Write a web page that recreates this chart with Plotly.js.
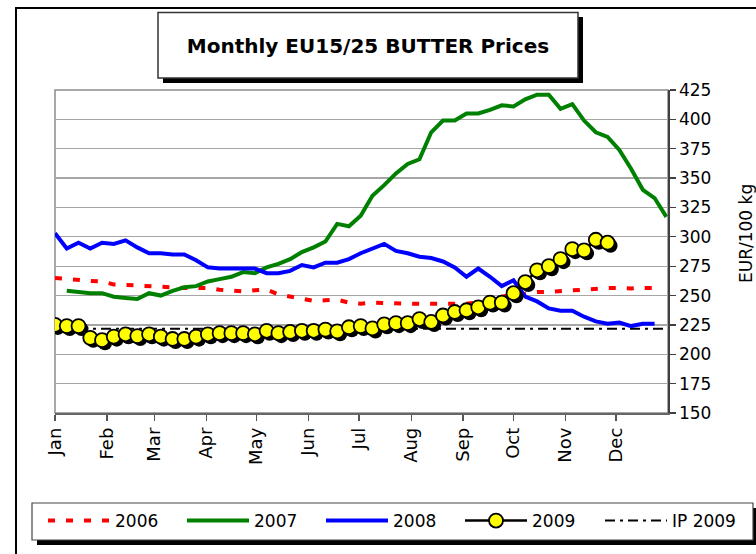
<!DOCTYPE html>
<html>
<head>
<meta charset="utf-8">
<script src="https://cdn.plot.ly/plotly-3.0.1.min.js"></script>
<style>html,body{margin:0;padding:0;background:#fff}#chart{width:756px;height:554px}</style>
</head>
<body>
<div id="chart"></div>
<script>
// ---- data (weekly prices, EUR/100 kg) ----
const monthLabels = ["Jan","Feb","Mar","Apr","May","Jun","Jul","Aug","Sep","Oct","Nov","Dec"];
const monthStartWeek = [0, 4.43, 8.43, 12.86, 17.14, 21.57, 25.86, 30.29, 34.71, 39, 43.43, 47.71];
const seriesNames = ["2006","2007","2008","2009","IP 2009"];

const start2006 = 0;
const p2006 = [265,264,263,262.5,262,259.5,259,258.5,258,257.5,256.5,256.5,256.5,256.5,255,254,253.5,254.5,255,251,
  249,247,245.5,246,246.5,244,243,244,243.5,243,243,243,243,243,243,243,244,246,249,251,
  251.5,253,253,254,254.5,255,256,256.5,256.5,256,256.5,256.5];
const start2007 = 1;
const p2007 = [254,253,252,252,249,248,247,252,250,254,257,258,262,264,266,270,269,274,277,281,
  287,291,296,311,309,318,335,344,354,362,366,389,399,399,405,405,408,412,411,417,
  421,421,409,413,399,389,385,374,358,340,333,317];
const start2008 = 0;
const p2008 = [303,290,295,290,295,294,297,291,286,286,285,285,280,274,273,273,273,273,269,269,
  271,276,274,278,278,281,286,290,294,288,286,283,282,279,274,266,273,266,258,263,
  249,245,239,237,237,232,228,226,227,224,226,226];
const start2009 = 0;
const p2009 = [225,224,224,214,212,215,217,215.5,217,215,213,213,215,217,218,218,218,217,220,218,
  219,220,220,221,219.5,223,224,222,225.5,226.5,226.5,230,227.5,233,236,237.5,240,244,244,252,
  261.5,271.5,275,281,289.5,288.5,297.5,295];
const ipWeeks = [0, 52];
const ip2009 = [221.75, 221.75];

// ---- geometry helpers (pixels -> paper) ----
const L = 55, T = 90, W = 613, H = 323;
const px = x => (x - L) / W;
const py = y => (T + H - y) / H;
const weeks = (start, arr) => arr.map((_, i) => start + i);

const X_RANGE = [0, 52.14];
const Y_RANGE = [150, 425];
const SH = 3; // shadow offset in px
const dxShadow = SH * (X_RANGE[1] - X_RANGE[0]) / W;
const dyShadow = SH * (Y_RANGE[1] - Y_RANGE[0]) / H;

const FONT = '"Comic Sans MS", "DejaVu Sans", sans-serif';

const traces = [
  { x: ipWeeks, y: ip2009, name: seriesNames[4], mode: 'lines', legend: 'legend2',
    line: { color: '#000000', width: 2, dash: '10px,5px,3px,5px' } },
  { x: weeks(start2006, p2006), y: p2006, name: seriesNames[0], mode: 'lines', legendrank: 1,
    line: { color: '#ff0000', width: 4, dash: '7px,11px' } },
  { x: weeks(start2007, p2007), y: p2007, name: seriesNames[1], mode: 'lines', legendrank: 2,
    line: { color: '#008000', width: 4 } },
  { x: weeks(start2008, p2008), y: p2008, name: seriesNames[2], mode: 'lines', legendrank: 3,
    line: { color: '#0000ff', width: 4 } },
  { x: weeks(start2009, p2009), y: p2009, name: 'shadow', mode: 'markers', showlegend: false,
    xaxis: 'x2', yaxis: 'y2', hoverinfo: 'skip',
    marker: { color: '#000000', size: 14, line: { width: 0 } } },
  { x: weeks(start2009, p2009), y: p2009, name: seriesNames[3], mode: 'lines+markers', legendrank: 4,
    xaxis: 'x3', yaxis: 'y3',
    line: { color: '#000000', width: 2.5 },
    marker: { color: '#ffff00', size: 14, line: { color: '#000000', width: 1.8 } } }
];

const shapes = [
  // outer chart frame
  { type: 'rect', xref: 'paper', yref: 'paper', x0: px(16), x1: px(790), y0: py(600), y1: py(8),
    line: { color: '#000', width: 2 }, fillcolor: 'rgba(0,0,0,0)', layer: 'below' },
  // title box shadow + box
  { type: 'rect', xref: 'paper', yref: 'paper', x0: px(163), x1: px(583), y0: py(83), y1: py(17),
    line: { width: 0 }, fillcolor: '#000', layer: 'below' },
  { type: 'rect', xref: 'paper', yref: 'paper', x0: px(158), x1: px(578), y0: py(78), y1: py(12.5),
    line: { color: '#333', width: 1.5 }, fillcolor: '#fff', layer: 'below' },
  // legend box shadow + box
  { type: 'rect', xref: 'paper', yref: 'paper', x0: px(37), x1: px(758), y0: py(545), y1: py(508),
    line: { width: 0 }, fillcolor: '#000', layer: 'below' },
  { type: 'rect', xref: 'paper', yref: 'paper', x0: px(32), x1: px(753), y0: py(540), y1: py(503),
    line: { color: '#444', width: 1.2 }, fillcolor: '#fff', layer: 'below' },
  // plot-area border
  { type: 'rect', xref: 'paper', yref: 'paper', x0: 0, x1: 1, y0: 0, y1: 1,
    line: { color: '#8c8c8c', width: 1.5 }, fillcolor: 'rgba(0,0,0,0)', layer: 'below' }
];

const legendCommon = {
  orientation: 'h', xref: 'container', yref: 'container', y: 1 - 521 / 554,
  xanchor: 'left', yanchor: 'middle',
  bgcolor: 'rgba(0,0,0,0)', borderwidth: 0, traceorder: 'normal',
  entrywidth: 62, entrywidthmode: 'pixels', itemwidth: 62,
  font: { family: FONT, size: 17 }
};

const layout = {
  width: 756, height: 554,
  margin: { l: L, r: 756 - L - W, t: T, b: 554 - T - H },
  paper_bgcolor: '#ffffff', plot_bgcolor: '#ffffff',
  font: { family: FONT, size: 17, color: '#000' },
  showlegend: true,
  title: { text: '<b>Monthly EU15/25 BUTTER Prices</b>', x: 368 / 756, y: 1 - 46 / 554,
    xanchor: 'center', yanchor: 'middle', xref: 'container', yref: 'container',
    font: { family: FONT, size: 20, color: '#000' } },
  xaxis: {
    range: X_RANGE, autorange: false, tickmode: 'array', tickvals: monthStartWeek, ticktext: monthLabels,
    tickangle: -90, ticks: 'outside', ticklen: 6, tickwidth: 1.2, tickcolor: '#555',
    showline: true, linecolor: '#666', linewidth: 1.5, showgrid: false, zeroline: false,
    tickfont: { family: FONT, size: 18 }
  },
  yaxis: {
    range: Y_RANGE, autorange: false, side: 'right', dtick: 25, tick0: 150,
    ticks: 'outside', ticklen: 6, tickwidth: 1.2, tickcolor: '#404040',
    showline: true, linecolor: '#404040', linewidth: 1.5,
    showgrid: true, gridcolor: '#a6a6a6', gridwidth: 1.3, zeroline: false,
    tickfont: { family: FONT, size: 17 }
  },
  xaxis2: { overlaying: 'x', range: [X_RANGE[0] - dxShadow, X_RANGE[1] - dxShadow], autorange: false, visible: false },
  yaxis2: { overlaying: 'y', range: [Y_RANGE[0] + dyShadow, Y_RANGE[1] + dyShadow], autorange: false, visible: false },
  xaxis3: { overlaying: 'x', range: X_RANGE, autorange: false, visible: false },
  yaxis3: { overlaying: 'y', range: Y_RANGE, autorange: false, visible: false },
  legend: Object.assign({}, legendCommon, { x: 43 / 756 }),
  legend2: Object.assign({}, legendCommon, { x: 600 / 756 }),
  annotations: [
    { text: 'EUR/100 kg', xref: 'paper', yref: 'paper', x: px(746), y: py(234), textangle: -90,
      showarrow: false, xanchor: 'center', yanchor: 'middle', font: { family: FONT, size: 17 } }
  ],
  shapes: shapes
};

Plotly.newPlot('chart', traces, layout, { displayModeBar: false, staticPlot: true });
</script>
</body>
</html>
